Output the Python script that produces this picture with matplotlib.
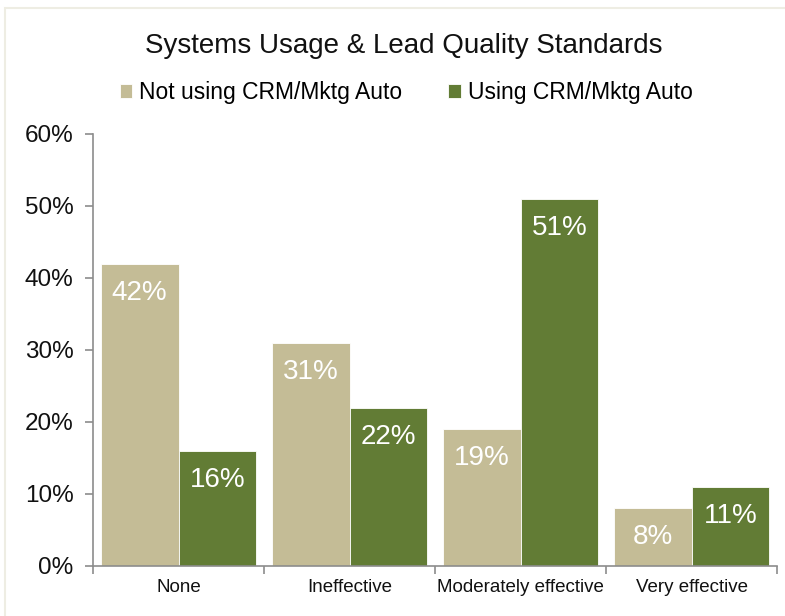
import numpy as np
import matplotlib.pyplot as plt
from matplotlib.patches import Rectangle

plt.rcParams['font.family'] = ['Liberation Sans', 'DejaVu Sans']

categories = ['None', 'Ineffective', 'Moderately effective', 'Very effective']
not_using = [42, 31, 19, 8]
using = [16, 22, 51, 11]
series_names = ['Not using CRM/Mktg Auto', 'Using CRM/Mktg Auto']
tan = '#C4BC96'
green = '#627C35'
axis_grey = '#8C8C8C'

fig = plt.figure(figsize=(7.85, 6.16), dpi=100)
# light frame around the chart
fig.patches.append(Rectangle((5 / 785, -0.1), 1.1, 1 - 8 / 616 + 0.1, transform=fig.transFigure,
                             fill=False, edgecolor='#EEEDE3', linewidth=1.5))

ax = fig.add_axes([93 / 785, 1 - 566 / 616, (777 - 93) / 785, (566 - 134) / 616])

x = np.arange(len(categories))
w = 0.455
b1 = ax.bar(x - w / 2, not_using, w, color=tan, edgecolor='white', linewidth=0.6, label=series_names[0])
b2 = ax.bar(x + w / 2, using, w, color=green, edgecolor='white', linewidth=0.6, label=series_names[1])

for bars, vals in [(b1, not_using), (b2, using)]:
    for r, v in zip(bars, vals):
        ax.annotate(f'{v}%', (r.get_x() + r.get_width() / 2, v), xytext=(0, -29),
                    textcoords='offset pixels', ha='center', va='center',
                    color='white', fontsize=20)

ax.set_xlim(-0.5, len(categories) - 0.5)
ax.set_ylim(0, 60)
ax.set_yticks(range(0, 61, 10))
ax.set_yticklabels([f'{t}%' for t in range(0, 61, 10)], fontsize=17.5, color='#111111')
ax.set_xticks(x)
ax.set_xticklabels(categories, fontsize=13.5, color='#111111')
ax.set_xticks(np.arange(-0.5, len(categories), 1), minor=True)
ax.tick_params(axis='x', which='major', length=0, pad=9)
ax.tick_params(axis='x', which='minor', length=6, color=axis_grey, width=1.2)
ax.tick_params(axis='y', length=6, color=axis_grey, width=1.2, pad=8)

for s in ['top', 'right']:
    ax.spines[s].set_visible(False)
for s in ['left', 'bottom']:
    ax.spines[s].set_color(axis_grey)
    ax.spines[s].set_linewidth(1.2)

fig.text(404 / 785, 1 - 46 / 616, 'Systems Usage & Lead Quality Standards',
         ha='center', va='center', fontsize=20, color='#111111')
fig.legend(handles=[b1, b2], labels=series_names, loc='center', bbox_to_anchor=(406 / 785, 1 - 93 / 616),
           ncol=2, frameon=False, fontsize=16.5, handlelength=0.55, handleheight=0.55,
           handletextpad=0.3, columnspacing=2.0)

fig.savefig('out.png', dpi=100)
